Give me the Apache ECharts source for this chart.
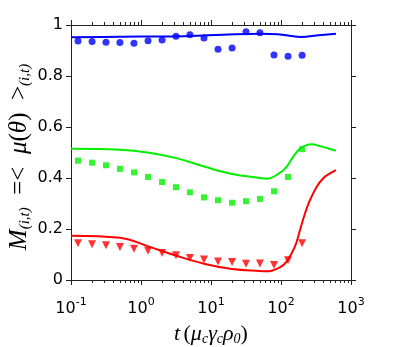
<!doctype html>
<html>
<head>
<meta charset="utf-8">
<title>M(i,t) vs t</title>
<script src="https://cdn.jsdelivr.net/npm/echarts@6/dist/echarts.min.js"></script>
<style>html,body{margin:0;padding:0;background:#fff;}#main{width:407px;height:347px;}</style>
</head>
<body>
<div id="main"></div>
<script>
// marker times (same for all three symbol series)
var markT = [0.126, 0.2, 0.316, 0.5, 0.794, 1.26, 2, 3.16, 5, 7.94, 12.6, 20, 31.6, 50, 79.4, 126, 200];
var blueDots = [0.937, 0.935, 0.932, 0.931, 0.928, 0.938, 0.941, 0.956, 0.962, 0.949, 0.905, 0.910, 0.974, 0.970, 0.882, 0.877, 0.881];
var greenSquares = [0.468, 0.460, 0.450, 0.436, 0.422, 0.404, 0.384, 0.364, 0.344, 0.324, 0.313, 0.303, 0.309, 0.318, 0.348, 0.404, 0.513];
var redTriangles = [0.144, 0.140, 0.136, 0.129, 0.123, 0.115, 0.106, 0.097, 0.086, 0.080, 0.073, 0.071, 0.064, 0.065, 0.059, 0.077, 0.144];

// curves [t, value]
var blueLine = [[0.1,0.952],[0.5,0.954],[2,0.955],[5,0.957],[15,0.962],[50,0.966],[90,0.964],[190,0.953],[350,0.960],[610,0.966]];
var greenLine = [[0.1,0.515],[0.5,0.511],[1.3,0.499],[3.3,0.477],[8.2,0.444],[20,0.416],[50,0.400],[63,0.397],[97,0.421],[120,0.444],[150,0.484],[187,0.516],[233,0.529],[275,0.532],[361,0.525],[474,0.516],[610,0.507]];
var redLine = [[0.1,0.174],[0.5,0.166],[1.3,0.131],[3.3,0.094],[8.2,0.063],[20,0.043],[50,0.035],[63,0.034],[97,0.050],[120,0.072],[158,0.131],[187,0.196],[220,0.261],[260,0.314],[324,0.366],[402,0.399],[501,0.418],[610,0.431]];

// minor tick positions (log10 of 2..9 times each decade)
var minorLog = [];
for (var e = -1; e < 3; e++) {
  for (var m = 2; m <= 9; m++) minorLog.push(e + Math.log10(m));
}

function pairs(xs, ys) {
  var out = [];
  for (var i = 0; i < xs.length; i++) out.push([xs[i], ys[i]]);
  return out;
}

var axisCol = '#222';
var sans = 'DejaVu Sans, sans-serif';
var serif = 'Liberation Serif, DejaVu Serif, serif';

function xAx(pos, extra) {
  var a = {
    type: 'log', logBase: 10, min: 0.1, max: 1000, position: pos, gridIndex: 0,
    axisLine: {show: true, onZero: false, lineStyle: {color: axisCol, width: 1}},
    axisTick: {show: true, inside: false, length: 5, lineStyle: {color: axisCol}},
    axisLabel: {show: false},
    splitLine: {show: false}
  };
  for (var k in extra) a[k] = extra[k];
  return a;
}

function minorAx(pos) {
  return {
    type: 'value', min: -1, max: 3, position: pos, gridIndex: 0,
    axisLine: {show: false, onZero: false},
    axisTick: {show: true, length: 3, customValues: minorLog, lineStyle: {color: axisCol}},
    axisLabel: {show: false},
    splitLine: {show: false}
  };
}

function yAx(pos, labels) {
  return {
    type: 'value', min: 0, max: 1, interval: 0.2, position: pos,
    axisLine: {show: true, onZero: false, lineStyle: {color: axisCol}},
    axisTick: {show: true, length: 5, lineStyle: {color: axisCol}},
    axisLabel: {show: labels, fontSize: 16, fontFamily: sans, color: '#000', margin: 8},
    splitLine: {show: false}
  };
}

var chart = echarts.init(document.getElementById('main'), null, {renderer: 'canvas'});
chart.setOption({
  animation: false,
  grid: {left: 71, right: 56, top: 25, bottom: 67, outerBoundsMode: 'none'},
  xAxis: [
    xAx('bottom', {
      axisLabel: {
        show: true, margin: 17,
        formatter: function (v) {
          return '{b|10}{s|' + Math.round(Math.log10(v)) + '}';
        },
        rich: {
          b: {fontSize: 16, fontFamily: sans, color: '#000', lineHeight: 20, verticalAlign: 'bottom'},
          s: {fontSize: 11, fontFamily: sans, color: '#000', lineHeight: 20, verticalAlign: 'top'}
        }
      },
      name: '{it|t} {n|(}{it|μ}{sub|c}{it|γ}{sub|c}{it|ρ}{sub|0}{n|)}',
      nameLocation: 'middle', nameGap: 43,
      nameTextStyle: {
        rich: {
          it: {fontSize: 22, fontFamily: serif, fontStyle: 'italic', color: '#000'},
          n: {fontSize: 22, fontFamily: serif, color: '#000'},
          sub: {fontSize: 14, fontFamily: serif, fontStyle: 'italic', color: '#000', padding: [9, 0, 0, 0]}
        }
      }
    }),
    minorAx('bottom'),
    xAx('top', {}),
    minorAx('top')
  ],
  yAxis: [yAx('left', true), yAx('right', false)],
  graphic: [{
    type: 'text', x: 19, y: 157, rotation: Math.PI / 2,
    style: {
      text: '{it|M}{sub|(i,t)}{n|  =<  }{it|μ}{n|(}{it|θ}{n|)  >}{sub|(i,t)}',
      align: 'center', verticalAlign: 'middle',
      rich: {
        it: {fontSize: 25, fontFamily: serif, fontStyle: 'italic', fill: '#000'},
        n: {fontSize: 25, fontFamily: serif, fill: '#000'},
        sub: {fontSize: 15, fontFamily: serif, fontStyle: 'italic', fill: '#000', padding: [12, 0, 0, 0]}
      }
    }
  }],
  series: [
    {type: 'line', data: blueLine, smooth: 0.4, showSymbol: false, lineStyle: {color: '#0000ff', width: 2}},
    {type: 'line', data: greenLine, smooth: 0.4, showSymbol: false, lineStyle: {color: '#00f000', width: 2}},
    {type: 'line', data: redLine, smooth: 0.4, showSymbol: false, lineStyle: {color: '#ff0000', width: 2}},
    {type: 'scatter', data: pairs(markT, blueDots), symbol: 'circle', symbolSize: 7, itemStyle: {color: '#0000ff'}},
    {type: 'scatter', data: pairs(markT, greenSquares), symbol: 'rect', symbolSize: 6, itemStyle: {color: '#00f000'}},
    {type: 'scatter', data: pairs(markT, redTriangles), symbol: 'triangle', symbolRotate: 180, symbolSize: 8, itemStyle: {color: '#ff0000'}}
  ]
});
</script>
</body>
</html>
